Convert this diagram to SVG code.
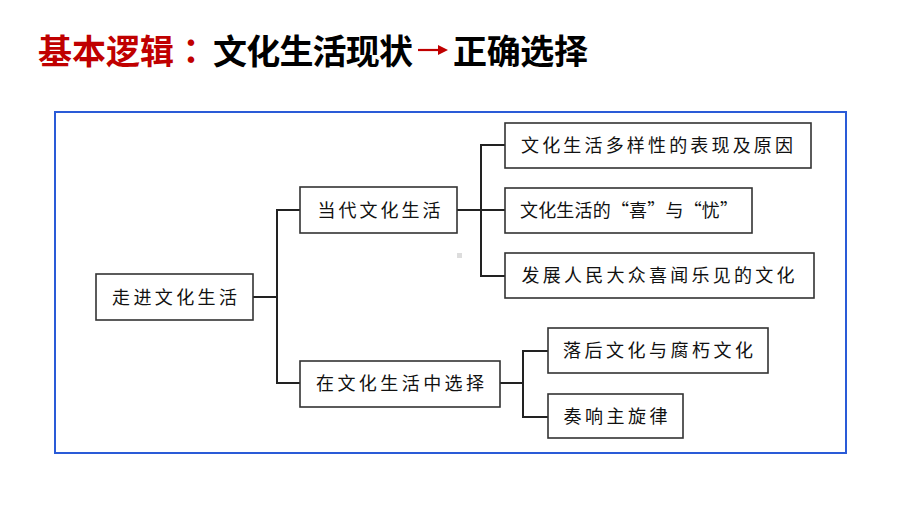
<svg xmlns="http://www.w3.org/2000/svg" width="920" height="518" viewBox="0 0 920 518">
<style>
.t{font-family:"Noto Sans CJK SC","Noto Sans CJK JP",sans-serif;font-weight:bold;font-size:34px}
.red{fill:#C00000}
.blk{fill:#000}
.jp{font-family:"Noto Sans CJK JP","Noto Sans CJK TC",sans-serif}
.box{fill:#fff;stroke:#333;stroke-width:1.6}
.lbl{font-family:"Noto Sans CJK SC","Noto Sans CJK JP",sans-serif;font-size:18px;fill:#111;text-anchor:middle}
.con{fill:none;stroke:#222;stroke-width:2}
</style>
<rect width="920" height="518" fill="#fff"/>
<g id="title">
<text class="t" y="64"><tspan class="red" x="38">基本逻辑</tspan><tspan class="red jp" x="174">：</tspan><tspan class="blk" x="213" textLength="200" lengthAdjust="spacing">文化生活现状</tspan></text>
<line x1="418" y1="50" x2="443" y2="50" stroke="#C00000" stroke-width="2.2"/>
<path d="M438,45 L448,50 L438,55 Z" fill="#C00000"/>
<text class="t" y="64"><tspan class="blk" x="453" textLength="135" lengthAdjust="spacing">正确选择</tspan></text>
</g>
<rect id="frame" x="55" y="112" width="791" height="341" fill="none" stroke="#2a5bd7" stroke-width="2"/>
<rect x="457" y="253" width="5" height="5" fill="#ddd"/>
<g id="connectors">
<path class="con" d="M253,297 H277"/>
<path class="con" d="M300,210 H277 V383 H300"/>
<path class="con" d="M457,210 H505"/>
<path class="con" d="M505,145 H481 V276 H505"/>
<path class="con" d="M500,383 H523"/>
<path class="con" d="M548,351 H523 V417 H548"/>
</g>
<g id="root"><rect class="box" x="96" y="274" width="157" height="46"/><text class="lbl" x="174.5" y="303.5" textLength="125" lengthAdjust="spacing">走进文化生活</text></g>
<g id="n1"><rect class="box" x="300" y="187" width="157" height="46"/><text class="lbl" x="379" y="216.5" textLength="123" lengthAdjust="spacing">当代文化生活</text></g>
<g id="n2"><rect class="box" x="300" y="361" width="200" height="46"/><text class="lbl" x="400" y="390" textLength="168" lengthAdjust="spacing">在文化生活中选择</text></g>
<g id="n11"><rect class="box" x="505" y="123" width="306" height="45"/><text class="lbl" x="657" y="152" textLength="272" lengthAdjust="spacing">文化生活多样性的表现及原因</text></g>
<g id="n12"><rect class="box" x="505" y="188" width="247" height="45"/><text class="lbl" x="629" y="217" textLength="218" lengthAdjust="spacing">文化生活的“喜”与“忧”</text></g>
<g id="n13"><rect class="box" x="505" y="253" width="309" height="45"/><text class="lbl" x="658" y="282" textLength="273" lengthAdjust="spacing">发展人民大众喜闻乐见的文化</text></g>
<g id="n21"><rect class="box" x="548" y="328" width="220" height="45"/><text class="lbl" x="658" y="357" textLength="190" lengthAdjust="spacing">落后文化与腐朽文化</text></g>
<g id="n22"><rect class="box" x="548" y="394" width="135" height="44"/><text class="lbl" x="615.5" y="422.5" textLength="104" lengthAdjust="spacing">奏响主旋律</text></g>
</svg>
